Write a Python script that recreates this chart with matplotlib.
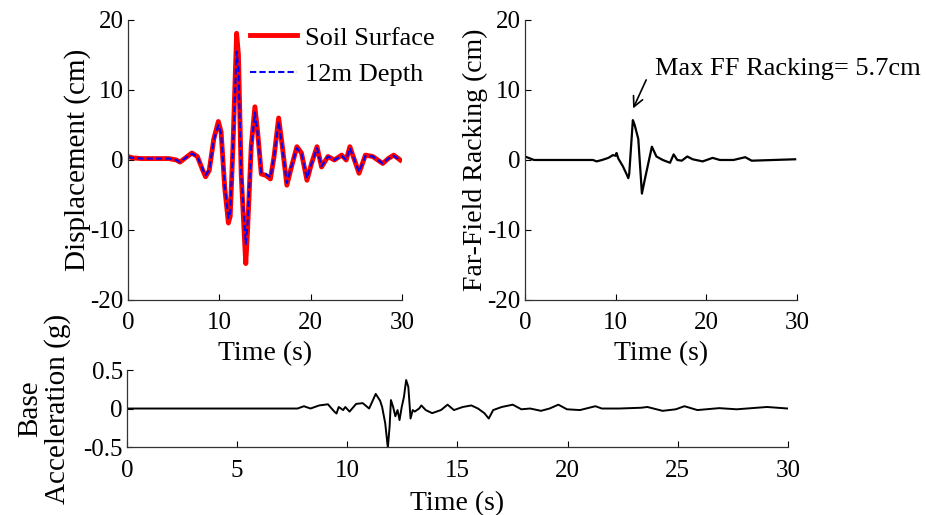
import matplotlib
matplotlib.use("Agg")
import matplotlib.pyplot as plt

plt.rcParams['font.family'] = ['Liberation Serif', 'DejaVu Serif']
plt.rcParams['axes.unicode_minus'] = False

# Soil surface displacement (cm)
surf_t = [0, 0.5, 1.5, 3, 4.5, 5.3, 5.7, 6.3, 7.0, 7.6, 8.2, 8.5, 8.9, 9.4, 9.9, 10.2,
          10.6, 11.0, 11.2, 11.5, 11.9, 12.1, 12.4, 12.9, 13.1, 13.5, 13.9, 14.2,
          14.6, 15.1, 15.6, 16.0, 16.5, 16.9, 17.4, 17.9, 18.5, 19.0, 19.6, 20.1,
          20.7, 21.2, 21.9, 22.6, 23.4, 23.9, 24.3, 24.8, 25.3, 26.0, 26.8, 27.9,
          28.5, 29.1, 29.8]
surf_v = [0.5, 0.3, 0.2, 0.2, 0.2, 0.0, -0.3, 0.3, 1.0, 0.5, -1.5, -2.4, -1.5, 3.0, 5.5, 4.0,
          -4.0, -9.0, -8.0, 2.0, 18.1, 15.0, -2.0, -14.8, -10.0, 2.0, 7.6, 4.0,
          -2.0, -2.2, -2.7, 0.5, 6.0, 2.0, -3.6, -1.0, 1.9, 1.0, -2.9, -0.5,
          1.9, -1.0, 0.5, 0.0, 0.7, 0.0, 1.9, 0.0, -1.9, 0.7, 0.5, -0.5,
          0.2, 0.7, 0.0]

# 12 m depth displacement (cm)
deep_t = surf_t
deep_v = [0.4, 0.3, 0.2, 0.2, 0.2, 0.0, -0.3, 0.3, 0.9, 0.5, -1.4, -2.2, -1.4, 2.8, 5.0, 3.8,
          -3.8, -8.3, -7.5, 1.8, 15.5, 13.0, -2.0, -12.0, -9.0, 1.8, 6.8, 3.8,
          -1.8, -2.0, -2.5, 0.5, 5.5, 1.8, -3.3, -0.9, 1.7, 0.9, -2.6, -0.5,
          1.7, -0.9, 0.5, 0.0, 0.6, 0.0, 1.7, 0.0, -1.7, 0.6, 0.5, -0.5,
          0.2, 0.6, 0.0]

# Far-field racking (cm)
ff_t = [0, 0.4, 1.0, 2.0, 7.5, 7.9, 8.5, 9.2, 9.7, 10.0, 10.1, 10.3, 10.8, 11.2, 11.4,
        11.5, 11.9, 12.1, 12.3, 12.5, 12.9, 13.2, 13.6, 14.0, 14.5, 15.2, 16.0, 16.4,
        16.8, 17.3, 17.9, 18.5, 19.6, 20.7, 21.5, 23.0, 24.3, 25.0, 29.8]
ff_v = [0.5, 0.3, 0.0, 0.0, 0.0, -0.2, 0.0, 0.3, 0.7, 0.6, 1.0, 0.2, -0.9, -2.0, -2.6,
        -2.0, 5.7, 5.0, 4.0, 3.0, -4.8, -2.9, -0.5, 1.9, 0.5, 0.0, -0.4, 0.8,
        0.0, -0.1, 0.5, 0.1, -0.2, 0.3, 0.0, 0.0, 0.4, -0.1, 0.1]

# Base acceleration (g)
acc_t = [0, 7.74, 8.03, 8.33, 8.72, 9.12, 9.41, 9.51, 9.61, 9.81, 9.91, 10.10, 10.40,
         10.70, 10.99, 11.29, 11.49, 11.58, 11.72, 11.84, 11.92, 11.98, 12.08, 12.18,
         12.28, 12.37, 12.47, 12.57, 12.67, 12.77, 12.87, 12.97, 13.06, 13.26, 13.36,
         13.56, 13.85, 14.25, 14.55, 14.84, 15.24, 15.63, 15.93, 16.22, 16.42, 16.62,
         17.01, 17.51, 17.90, 18.30, 18.79, 19.18, 19.58, 19.97, 20.56, 21.26, 21.55,
         22.34, 23.33, 23.62, 24.31, 24.91, 25.30, 25.89, 26.88, 27.67, 29.05, 30.0]
acc_v = [0, 0, 0.03, 0, 0.04, 0.055, -0.04, -0.065, 0.02, -0.02, 0.02, -0.04, 0.06,
         0.07, 0, 0.19, 0.1, 0.02, -0.19, -0.51, -0.23, 0.11, 0.02, -0.1,
         -0.02, -0.15, 0.02, 0.15, 0.37, 0.28, -0.13, -0.02, -0.04, 0, 0.04,
         -0.02, -0.06, -0.02, 0.05, -0.02, 0.02, 0.04, 0, -0.06, -0.13, -0.02,
         0.02, 0.05, -0.01, 0, -0.03, 0, 0.05, -0.01, -0.02, 0.03, 0,
         0, 0.01, 0.02, -0.03, -0.01, 0.03, -0.02, 0.005, -0.01, 0.02, 0]

TICK_FS = 18
LAB_FS = 20
TXT_FS = 19

fig = plt.figure(figsize=(9.27, 5.15), dpi=100)
ax1 = fig.add_axes([0.138, 0.4175, 0.2956, 0.5437])
ax2 = fig.add_axes([0.5663, 0.4175, 0.2934, 0.5437])
ax3 = fig.add_axes([0.137, 0.132, 0.713, 0.1495])

def style(ax):
    for s in ['top', 'right']:
        ax.spines[s].set_visible(False)
    for s in ['left', 'bottom']:
        ax.spines[s].set_linewidth(0.9)
        ax.spines[s].set_color('#333333')
    ax.tick_params(direction='in', labelsize=TICK_FS, length=4, width=0.8)
    ax.tick_params(axis='x', pad=9)
    ax.tick_params(axis='y', pad=3)

ax1.plot(surf_t, surf_v, color='#ff0000', lw=3.5, label='Soil Surface')
ax1.plot(deep_t, deep_v, color='#0000ff', lw=1.5, ls=(0, (3, 1.5)), label='12m Depth')
ax1.set_xlim(0, 30)
ax1.set_ylim(-20, 20)
ax1.set_xticks([0, 10, 20, 30])
ax1.set_yticks([-20, -10, 0, 10, 20])
ax1.set_xlabel('Time (s)', fontsize=LAB_FS, labelpad=5)
ax1.set_ylabel('Displacement (cm)', fontsize=21, labelpad=0)
style(ax1)
ax1.legend(loc='upper left', bbox_to_anchor=(0.407, 1.016), frameon=False, fontsize=TXT_FS,
           handlelength=1.78, handletextpad=0.3, labelspacing=0.5, borderaxespad=0)

ax2.plot(ff_t, ff_v, color='black', lw=1.6)
ax2.set_xlim(0, 30)
ax2.set_ylim(-20, 20)
ax2.set_xticks([0, 10, 20, 30])
ax2.set_yticks([-20, -10, 0, 10, 20])
ax2.set_xlabel('Time (s)', fontsize=LAB_FS, labelpad=5)
ax2.set_ylabel('Far-Field Racking (cm)', fontsize=LAB_FS, labelpad=0)
style(ax2)
ax2.annotate('', xy=(11.8, 7.0), xytext=(13.5, 11.8),
             arrowprops=dict(arrowstyle='->', lw=1.2, color='black', mutation_scale=18))
ax2.text(14.3, 13.0, 'Max FF Racking= 5.7cm', fontsize=TXT_FS, va='center', ha='left', clip_on=False)

ax3.plot(acc_t, acc_v, color='black', lw=1.4)
ax3.set_xlim(0, 30)
ax3.set_ylim(-0.5, 0.5)
ax3.set_xticks([0, 5, 10, 15, 20, 25, 30])
ax3.set_yticks([-0.5, 0, 0.5])
ax3.set_yticklabels(['-0.5', '0', '0.5'])
ax3.set_xlabel('Time (s)', fontsize=LAB_FS, labelpad=7)
ax3.set_ylabel('Base\nAcceleration (g)', fontsize=21, labelpad=9, linespacing=1.05)
style(ax3)

fig.savefig('out.png', dpi=100)
